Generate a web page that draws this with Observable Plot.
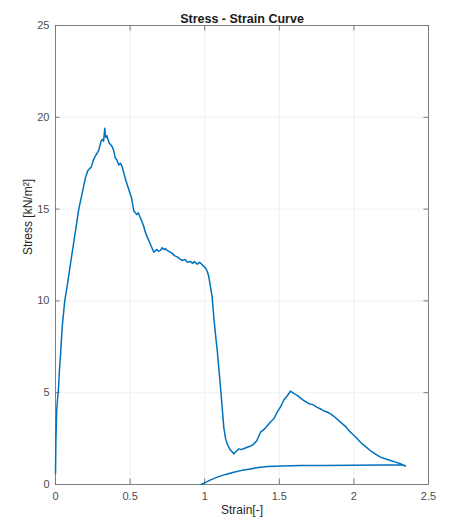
<!DOCTYPE html>
<html>
<head>
<meta charset="utf-8">
<script src="https://cdn.jsdelivr.net/npm/d3@7"></script>
<script src="https://cdn.jsdelivr.net/npm/@observablehq/plot@0.6"></script>
<style>
  body { margin: 0; background: #fff; }
  svg { font-family: Arial, "Liberation Sans", sans-serif; }
</style>
</head>
<body>
<div id="chart"></div>
<script>
const title = "Stress - Strain Curve";
const xLabel = "Strain[-]";
const yLabel = "Stress [kN/m²]";
const xTicks = [0, 0.5, 1, 1.5, 2, 2.5];
const yTicks = [0, 5, 10, 15, 20, 25];

// loading branch, then unloading branch
const strain = [0, 0.003, 0.008, 0.014, 0.02, 0.027, 0.034, 0.045, 0.062, 0.08, 0.1, 0.13, 0.156, 0.185, 0.2, 0.217, 0.24, 0.255, 0.268, 0.29, 0.305, 0.313, 0.322, 0.327, 0.33, 0.334, 0.338, 0.345, 0.351, 0.36, 0.37, 0.38, 0.39, 0.4, 0.41, 0.424, 0.435, 0.447, 0.47, 0.49, 0.51, 0.525, 0.545, 0.555, 0.57, 0.59, 0.6, 0.614, 0.635, 0.659, 0.67, 0.68, 0.69, 0.704, 0.715, 0.725, 0.735, 0.749, 0.76, 0.78, 0.8, 0.816, 0.83, 0.85, 0.87, 0.883, 0.9, 0.92, 0.93, 0.95, 0.965, 0.98, 1.005, 1.018, 1.028, 1.039, 1.05, 1.061, 1.072, 1.084, 1.095, 1.106, 1.117, 1.128, 1.14, 1.151, 1.17, 1.195, 1.21, 1.229, 1.245, 1.26, 1.285, 1.31, 1.329, 1.35, 1.374, 1.39, 1.41, 1.441, 1.465, 1.486, 1.51, 1.53, 1.555, 1.575, 1.585, 1.6, 1.62, 1.66, 1.698, 1.725, 1.754, 1.78, 1.8, 1.82, 1.843, 1.86, 1.875, 1.91, 1.945, 1.977, 2.01, 2.044, 2.08, 2.11, 2.145, 2.178, 2.21, 2.245, 2.28, 2.312, 2.33, 2.345,
  2.34, 2.31, 2.2, 2.0, 1.8, 1.64, 1.52, 1.419, 1.36, 1.307, 1.25, 1.195, 1.14, 1.084, 1.04, 1.01, 0.994, 0.975];
const stress = [0.6, 2.5, 4.0, 4.7, 5.2, 6.3, 7.1, 8.6, 10.0, 10.9, 12.0, 13.6, 15.0, 16.1, 16.7, 17.1, 17.3, 17.7, 17.9, 18.2, 18.7, 18.8, 18.7, 19.1, 19.4, 19.0, 18.9, 19.0, 18.8, 18.6, 18.5, 18.4, 18.2, 17.8, 17.7, 17.4, 17.5, 17.3, 16.6, 16.1, 15.6, 14.9, 14.7, 14.8, 14.5, 14.1, 13.8, 13.5, 13.1, 12.65, 12.75, 12.8, 12.7, 12.75, 12.9, 12.8, 12.85, 12.75, 12.7, 12.6, 12.45, 12.4, 12.3, 12.2, 12.25, 12.1, 12.15, 12.05, 12.15, 12.0, 12.1, 12.0, 11.8, 11.6, 11.3, 10.75, 10.2, 9.1, 8.2, 7.3, 6.3, 5.3, 4.2, 3.1, 2.5, 2.2, 1.9, 1.67, 1.8, 1.94, 1.9, 1.95, 2.03, 2.1, 2.2, 2.4, 2.85, 2.95, 3.1, 3.4, 3.6, 3.94, 4.25, 4.6, 4.85, 5.08, 5.03, 4.95, 4.85, 4.6, 4.4, 4.35, 4.2, 4.1, 4.0, 3.95, 3.85, 3.75, 3.65, 3.4, 3.15, 2.85, 2.6, 2.3, 2.05, 1.85, 1.65, 1.49, 1.4, 1.31, 1.22, 1.13, 1.05, 1.0,
  1.05, 1.07, 1.06, 1.05, 1.04, 1.03, 1.01, 0.98, 0.93, 0.85, 0.77, 0.67, 0.55, 0.4, 0.25, 0.13, 0.07, 0.0];

const data = strain.map((s, i) => ({strain: s, stress: stress[i]}));

const lab = "#4d4d4d";
const chart = Plot.plot({
  width: 454,
  height: 529,
  marginLeft: 55,
  marginRight: 26,
  marginTop: 25,
  marginBottom: 45,
  style: {fontSize: "11px", color: "#262626", background: "#fff"},
  x: {domain: [0, 2.5]},
  y: {domain: [0, 25]},
  marks: [
    Plot.gridX(xTicks, {stroke: "#e6e6e6", strokeOpacity: 0.6}),
    Plot.gridY(yTicks, {stroke: "#e6e6e6", strokeOpacity: 0.6}),
    Plot.frame({stroke: "#262626", strokeOpacity: 0.55}),
    Plot.axisX({ticks: xTicks, tickSize: 0, tickPadding: 8, tickFormat: d => String(d), label: null, fill: lab, fontSize: 11}),
    Plot.axisY({ticks: yTicks, tickSize: 0, tickPadding: 6, tickFormat: d => String(d), label: null, fill: lab, fontSize: 11}),
    Plot.ruleX(xTicks, {x: d => d, y1: 0, y2: 0.3, stroke: "#777"}),
    Plot.ruleX(xTicks, {x: d => d, y1: 24.7, y2: 25, stroke: "#777"}),
    Plot.ruleY(yTicks, {y: d => d, x1: 0, x2: 0.03, stroke: "#777"}),
    Plot.ruleY(yTicks, {y: d => d, x1: 2.47, x2: 2.5, stroke: "#777"}),
    Plot.line(data, {x: "strain", y: "stress", stroke: "#0072BD", strokeWidth: 1.5, curve: "linear"}),
    Plot.text([title], {frameAnchor: "top", dy: -11, text: d => d, fontWeight: "bold", fontSize: 12.5, fill: "#1a1a1a"}),
    Plot.text([xLabel], {frameAnchor: "bottom", dy: 29, text: d => d, fontSize: 12, fill: "#262626"}),
    Plot.text([yLabel], {frameAnchor: "left", dx: -27, rotate: -90, text: d => d, fontSize: 12, fill: "#262626"})
  ]
});
document.getElementById("chart").appendChild(chart);
</script>
</body>
</html>
